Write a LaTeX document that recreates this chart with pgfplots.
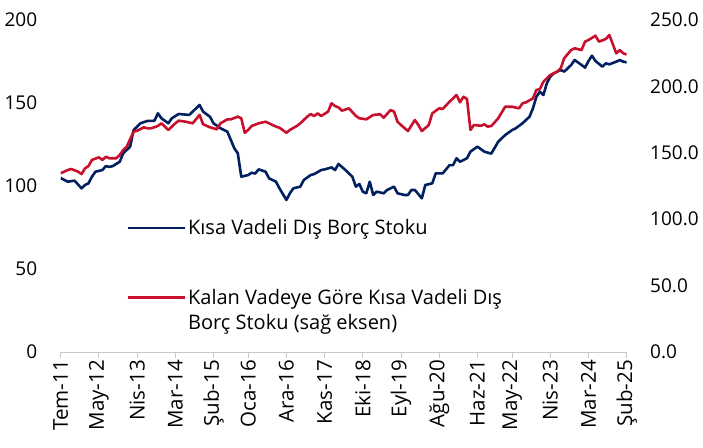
\documentclass[border=0pt]{standalone}
\usepackage{fontspec}
\setmainfont{Open Sans}
\usepackage{pgfplots}
\usepackage{pgfplotstable}
\pgfplotsset{compat=1.18}
\usetikzlibrary{calc}
\definecolor{navy}{RGB}{0,32,96}
\definecolor{crim}{RGB}{200,16,46}
\definecolor{axgray}{RGB}{200,200,200}

\pgfplotstableread{
m v
0 104.8
2 102.6
4 103.2
6 98.6
7 100.6
8 101.6
9 105.6
10 108.6
12 109.6
13 112
14 111.5
15 112
17 114.6
18 119.7
20 123.7
21 133.7
23 137.8
25 139.2
27 139.3
28 143.8
29 140.8
31 137.8
32 140.8
34 143.4
37 142.8
38 144.8
40 148.8
41 144.8
43 141.7
44 137.8
46 134.8
48 132.7
49 127.7
50 122.7
51 119.7
52 105.6
54 106.6
55 108
56 107.5
57 110
59 108.6
60 104.6
62 102.6
63 98.6
65 91.6
66 95.6
67 98.6
69 99.6
70 103.6
72 106.6
73 107.2
75 109.6
76 110
78 111.2
79 109.6
80 113.3
82 109.6
84 105.6
85 99.6
86 101.2
87 96.6
88 95.6
89 102.6
90 94.6
91 96.6
93 95.6
94 97.6
96 99.6
97 95.6
99 94.6
100 94.6
101 97.6
102 97.6
104 92.6
105 100.6
107 101.6
108 107.6
110 107.6
112 112.6
113 112.6
114 116.7
115 114.6
117 116.7
118 120.7
120 123.7
122 120.7
124 119.5
126 126.7
128 130.7
130 133.7
131 134.7
133 137.8
135 141.7
136 146.8
137 153.8
138 156.8
139 154.8
140 161.9
141 165.9
142 167.9
144 169.9
145 168.9
147 172.9
148 175.9
150 172.9
151 171.3
152 175.3
153 178.5
154 175.3
156 171.9
157 173.9
158 173.3
160 174.9
161 175.9
162 174.9
163 174.5
}\blue

\pgfplotstableread{
m v
0 134.6
2 137
3 137.8
5 135.8
6 134
7 138.3
8 140
9 144.6
11 146.6
12 144.6
13 147
14 145.9
16 145.9
17 148.3
18 152.1
19 154.6
21 165.9
22 166.6
24 169.2
25 168.4
26 168.4
28 170.2
29 172.2
31 167.2
33 172.2
34 174.2
36 173.4
38 172.2
40 178.5
41 171.5
43 169.2
45 167.7
46 172.2
48 175.2
49 175.2
51 177.2
52 176
53 165.1
54 167.2
55 170.2
57 172.2
59 173.4
60 172.2
62 169.7
63 168.9
65 165.1
66 167.2
68 170.2
69 172.2
71 177.2
72 179.2
73 177.7
74 179.7
75 177.7
77 181
78 187.3
79 185.2
80 184.2
81 181.7
83 183.5
85 177.8
86 176
88 175.2
90 178.5
92 179
93 176.4
95 182.2
96 181
97 173.4
98 170.9
100 166.4
102 174.7
103 170.9
104 166.4
106 170.9
107 179.7
109 183.5
110 183
112 188.5
113 191
114 193.5
115 188
116 192.2
117 190.5
118 167.2
119 170.9
121 170.4
122 171.4
123 169.7
124 170.2
125 173
126 176
128 184.7
130 184.7
132 183.5
133 187.3
134 188
136 191
137 197.3
138 198
139 203.5
140 206.1
141 208.6
143 211.1
144 213.6
145 221.2
147 227.4
148 228.7
150 227.4
151 233.7
152 234.9
154 238.2
155 233.7
157 235.7
158 238.7
160 224.9
161 227.4
162 224.9
163 224
}\red

\begin{document}
\begin{tikzpicture}
\pgfplotsset{
  every axis/.append style={
    scale only axis, width=566pt, height=332pt,
    xmin=0, xmax=163,
    tick label style={font=\fontsize{19}{22}\selectfont},
    /pgf/number format/assume math mode=true,
  }
}
\begin{axis}[
  name=ax,
  ymin=0, ymax=200,
  axis x line*=bottom, axis y line*=left,
  x axis line style={color=axgray, line width=1pt, -},
  y axis line style={draw=none},
  ytick={0,50,100,150,200},
  ytick style={draw=none},
  yticklabel style={xshift=-14pt},
  xtick={0,11,22,33,44,54,65,76,87,98,109,120,130,141,152,163},
  xticklabels={Tem-11,May-12,Nis-13,Mar-14,Şub-15,Oca-16,Ara-16,Kas-17,Eki-18,Eyl-19,Ağu-20,Haz-21,May-22,Nis-23,Mar-24,Şub-25},
  xtick style={color=axgray, line width=1pt},
  tick align=outside, major tick length=6pt,
  x tick label style={rotate=90, anchor=east, inner sep=2pt, font=\fontsize{20.5}{23}\selectfont},
]
\addplot[navy, line width=2.6pt, line join=round] table[x=m,y=v] {\blue};
\end{axis}
\begin{axis}[
  ymin=0, ymax=250,
  axis x line=none, axis y line*=right,
  y axis line style={draw=none},
  ytick={0,50,100,150,200,250},
  ytick style={draw=none},
  yticklabel style={anchor=west, xshift=20pt, /pgf/number format/.cd, fixed, fixed zerofill, precision=1},
  legend style={at={(0.116,0.405)}, anchor=north west, draw=none, fill=none,
    font=\fontsize{20}{25.5}\selectfont, row sep=46pt, inner sep=0pt,
    cells={anchor=base west}},
  legend image code/.code={\draw[#1, line width=2.6pt] (0pt,7pt) -- (57pt,7pt);},
]
\addlegendimage{navy}
\addlegendentry{Kısa Vadeli Dış Borç Stoku}
\addplot[crim, line width=2.6pt, line join=round] table[x=m,y=v] {\red};
\addlegendentry{\begin{tabular}[t]{@{}l@{}}Kalan Vadeye Göre Kısa Vadeli Dış\\Borç Stoku (sağ eksen)\end{tabular}}
\end{axis}
\pgfresetboundingbox
\path ($(ax.south west)+(-60.7pt,-95pt)$) rectangle ($(ax.north east)+(76.3pt,20pt)$);
\end{tikzpicture}
\end{document}
